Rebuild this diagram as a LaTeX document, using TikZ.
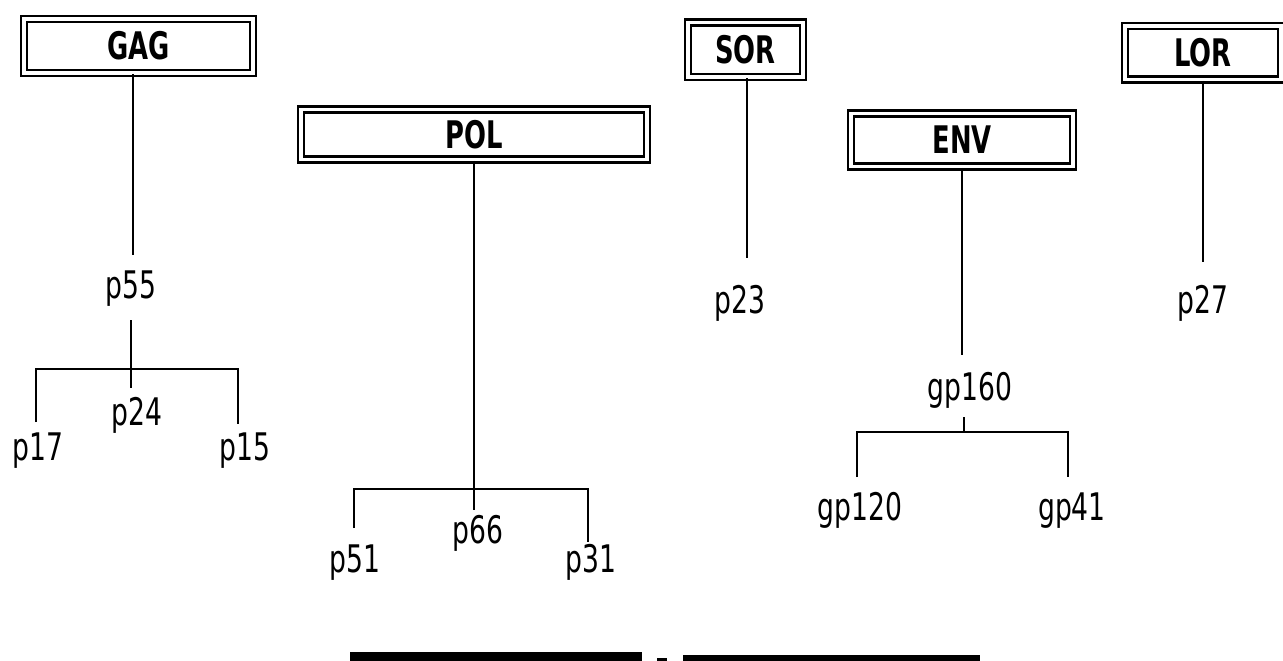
\documentclass[tikz,border=0pt]{standalone}
\usepackage{fontspec}
\setmainfont{DejaVu Sans}
\newfontfamily\labfont{DejaVu Sans}[FakeStretch=0.7]
\newfontfamily\headfont{DejaVu Sans}[FakeStretch=0.68]
\begin{document}
\begin{tikzpicture}[x=1pt,y=-1pt,
  hbox/.style={draw, double, double distance=3.5pt, line width=2.5pt, inner sep=0pt,
    font=\headfont\bfseries\fontsize{38}{44}\selectfont},
  lab/.style={anchor=base, inner sep=0pt, font=\labfont\fontsize{38}{44}\selectfont},
  ln/.style={line width=2.4pt}]
\useasboundingbox (0,0) rectangle (1283,661);

% header boxes
\node[hbox, minimum width=229pt, minimum height=54pt] (gag) at (138.5,46) {GAG};
\node[hbox, minimum width=115pt, minimum height=54.5pt] (sor) at (745.5,50) {SOR};
\node[hbox, minimum width=346pt, minimum height=50pt] (pol) at (474,134.5) {POL};
\node[hbox, minimum width=222pt, minimum height=53pt] (env) at (962,140) {ENV};
\node[hbox, minimum width=156pt, minimum height=53.5pt] (lor) at (1203,53) {LOR};

% labels
\node[lab] (p55) at (131,298) {p55};
\node[lab] (p24) at (137,425) {p24};
\node[lab] (p17) at (38,460) {p17};
\node[lab] (p15) at (245,460) {p15};
\node[lab] (p66) at (478,543) {p66};
\node[lab] (p51) at (355,572) {p51};
\node[lab] (p31) at (591,572) {p31};
\node[lab] (p23) at (740,313) {p23};
\node[lab] (gp160) at (970,400) {gp160};
\node[lab] (gp120) at (860,520) {gp120};
\node[lab] (gp41) at (1072,520) {gp41};
\node[lab] (p27) at (1203,313) {p27};

% GAG tree
\coordinate (gagend) at (133,255);
\draw[ln] (gag.south -| gagend) -- (gagend);
\coordinate (g1) at (131,320);
\coordinate (g2) at (131,388);
\draw[ln] (g1) -- (g2);
\coordinate (gl) at (36,422);
\coordinate (glt) at (36,369);
\coordinate (grt) at (238,369);
\coordinate (gr) at (238,424);
\draw[ln] (gl) -- (glt) -- (grt) -- (gr);

% POL tree
\coordinate (polend) at (474,510);
\draw[ln] (pol.south -| polend) -- (polend);
\coordinate (pl) at (354,528);
\coordinate (plt) at (354,489);
\coordinate (prt) at (588,489);
\coordinate (pr) at (588,542);
\draw[ln] (pl) -- (plt) -- (prt) -- (pr);

% SOR
\coordinate (sorend) at (747,258);
\draw[ln] (sor.south -| sorend) -- (sorend);

% ENV tree
\coordinate (envend) at (962,355);
\draw[ln] (env.south -| envend) -- (envend);
\coordinate (e1) at (964,417);
\coordinate (e2) at (964,432);
\draw[ln] (e1) -- (e2);
\coordinate (el) at (857,477);
\coordinate (elt) at (857,432);
\coordinate (ert) at (1068,432);
\coordinate (er) at (1068,477);
\draw[ln] (el) -- (elt) -- (ert) -- (er);

% LOR
\coordinate (lorend) at (1203,262);
\draw[ln] (lor.south -| lorend) -- (lorend);

% black bars at the bottom
\fill (350,652) rectangle (642,661);
\fill (657,658) rectangle (667,661);
\fill (683,655) rectangle (980,661);
\end{tikzpicture}
\end{document}
